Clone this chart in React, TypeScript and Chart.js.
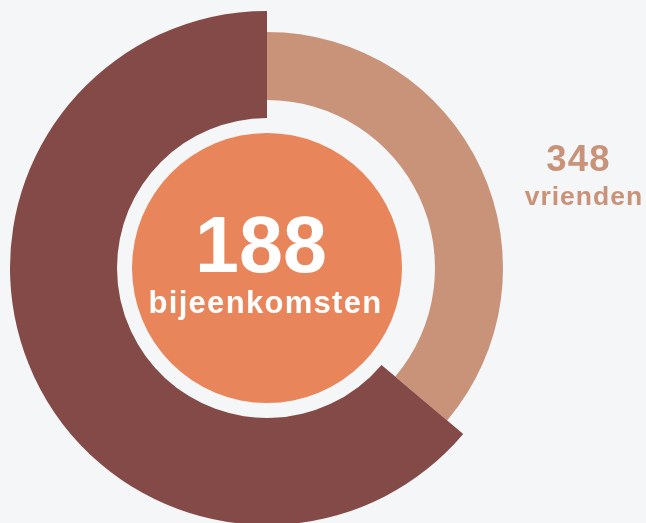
import React, { useEffect, useRef } from 'react';
import { Chart, registerables } from 'chart.js';

Chart.register(...registerables);

// ---- data ----
const categories = ['vrienden', 'overig'];
const values = [348, 614];
const centerValue = '188';
const centerLabel = 'bijeenkomsten';
const sideValue = '348';
const sideLabel = 'vrienden';

// ---- styles ----
const BG = '#F4F6F8';
const TAN = '#C9937A';
const DARK = '#844A48';
const ORANGE = '#E9855A';
const FONT = '"Liberation Sans", Arial, Helvetica, sans-serif';

// ring geometry, relative to the outer (dark) radius
const DARK_OUTER = 257;
const DARK_INNER = 150;
const TAN_OUTER = 236;
const TAN_INNER = 168;
const DISC = 135;

export default function App() {
  const ref = useRef<HTMLCanvasElement>(null);

  useEffect(() => {
    if (!ref.current) return;
    const ringPlugin = {
      id: 'ringRadii',
      afterDatasetsUpdate(chart: any) {
        const arcs = chart.getDatasetMeta(0).data as any[];
        const R = arcs[1].outerRadius;
        arcs[0].outerRadius = (R * TAN_OUTER) / DARK_OUTER;
        arcs[0].innerRadius = (R * TAN_INNER) / DARK_OUTER;
      },
      beforeDatasetsDraw(chart: any) {
        const arcs = chart.getDatasetMeta(0).data as any[];
        const R = arcs[1].outerRadius;
        const ctx = chart.ctx;
        ctx.save();
        ctx.beginPath();
        ctx.arc(arcs[1].x, arcs[1].y, (R * DISC) / DARK_OUTER, 0, Math.PI * 2);
        ctx.fillStyle = ORANGE;
        ctx.fill();
        ctx.restore();
      },
    };

    const chart = new Chart(ref.current, {
      type: 'doughnut',
      data: {
        labels: categories,
        datasets: [
          {
            data: values,
            backgroundColor: [TAN, DARK],
            borderWidth: 0,
            hoverOffset: 0,
            offset: 0,
            spacing: 0,
          },
        ],
      },
      options: {
        responsive: false,
        animation: false,
        events: [],
        cutout: (DARK_INNER / DARK_OUTER) * 100 + '%',
        layout: { padding: 0 },
        plugins: {
          legend: { display: false },
          tooltip: { enabled: false },
        },
      },
      plugins: [ringPlugin],
    });
    return () => chart.destroy();
  }, []);

  return (
    <div style={{ position: 'fixed', inset: 0, background: BG, overflow: 'hidden', fontFamily: FONT }}>
      <canvas
        ref={ref}
        width={514}
        height={514}
        style={{ position: 'absolute', left: 10, top: 11, width: 514, height: 514, display: 'block' }}
      />
      <div
        style={{
          position: 'absolute', left: 161, width: 200, top: 205, textAlign: 'center', whiteSpace: 'nowrap',
          color: '#FFFFFF', fontWeight: 700, fontSize: 79, lineHeight: '79px', letterSpacing: 0,
        }}
      >
        {centerValue}
      </div>
      <div
        style={{
          position: 'absolute', left: 115.5, width: 300, top: 287.3, textAlign: 'center', whiteSpace: 'nowrap',
          color: '#FFFFFF', fontWeight: 700, fontSize: 31, lineHeight: '31px', letterSpacing: 1.3,
        }}
      >
        {centerLabel}
      </div>
      <div
        style={{
          position: 'absolute', left: 518.6, width: 120, top: 140.8, textAlign: 'center', whiteSpace: 'nowrap',
          color: TAN, fontWeight: 700, fontSize: 36.5, lineHeight: '36.5px', letterSpacing: 1.2,
        }}
      >
        {sideValue}
      </div>
      <div
        style={{
          position: 'absolute', left: 513.9, width: 140, top: 183.4, textAlign: 'center', whiteSpace: 'nowrap',
          color: TAN, fontWeight: 700, fontSize: 26.5, lineHeight: '26.5px', letterSpacing: 1.0,
        }}
      >
        {sideLabel}
      </div>
    </div>
  );
}
